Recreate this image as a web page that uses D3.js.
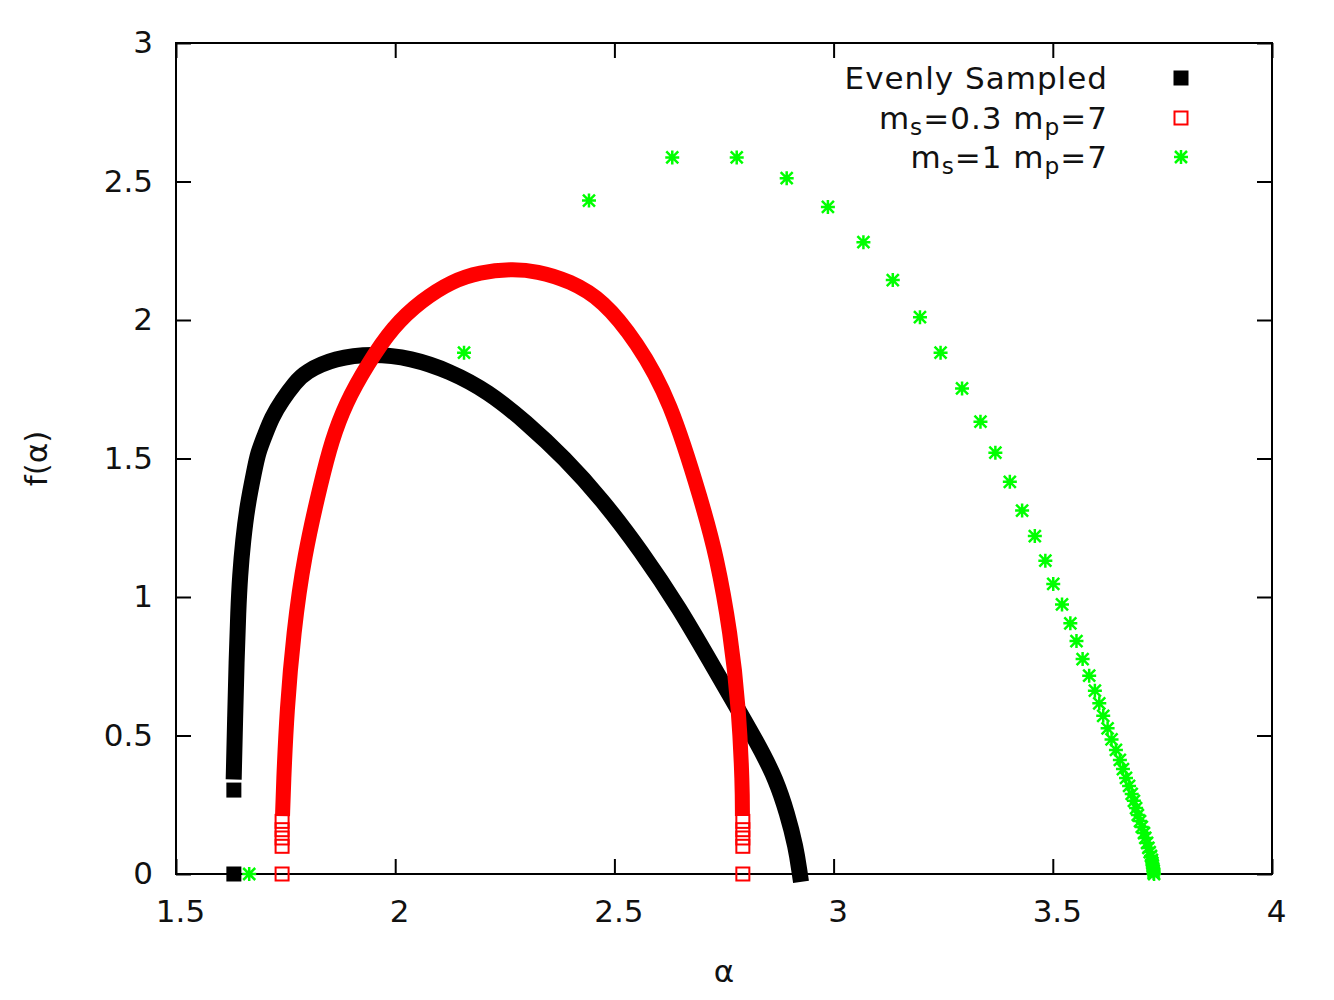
<!DOCTYPE html>
<html>
<head>
<meta charset="utf-8">
<script src="https://cdn.jsdelivr.net/npm/d3@7"></script>
<style>
  body { margin: 0; background: #fff; }
  svg { display: block; }
  text { font-family: 'DejaVu Sans', sans-serif; fill: #111; }
</style>
</head>
<body>
<svg id="chart" width="1334" height="1000"></svg>
<script>
// axis ticks
const xTicks = [1.5, 2, 2.5, 3, 3.5, 4];
const yTicks = [0, 0.5, 1, 1.5, 2, 2.5, 3];

// "Evenly Sampled" curve (dense filled squares)
const evenAlpha = [1.632, 1.635, 1.638, 1.642, 1.646, 1.653, 1.663, 1.679, 1.687, 1.703, 1.718,
  1.742, 1.772, 1.794, 1.862, 1.949, 2.036, 2.124, 2.212, 2.298, 2.386, 2.473, 2.561, 2.647,
  2.735, 2.832, 2.869, 2.894, 2.914, 2.923];
const evenF = [0.370, 0.570, 0.762, 0.951, 1.077, 1.204, 1.332, 1.458, 1.521, 1.585, 1.647,
  1.711, 1.774, 1.812, 1.863, 1.879, 1.863, 1.816, 1.742, 1.632, 1.502, 1.350, 1.166, 0.964,
  0.722, 0.458, 0.339, 0.220, 0.097, 0];
// stray points below the curve
const evenLoneAlpha = [1.632, 1.632];
const evenLoneF = [0, 0.303];

// ms=0.3 mp=7 (dense open squares)
const ms03Alpha = [1.743, 1.745, 1.753, 1.768, 1.792, 1.832, 1.855, 1.887, 1.936, 1.995, 2.061,
  2.130, 2.193, 2.264, 2.323, 2.399, 2.474, 2.551, 2.627, 2.702, 2.733, 2.765, 2.784, 2.792, 2.792];
const ms03F = [0.209, 0.318, 0.596, 0.870, 1.148, 1.422, 1.563, 1.700, 1.838, 1.977, 2.072,
  2.141, 2.173, 2.184, 2.177, 2.141, 2.072, 1.921, 1.715, 1.329, 1.148, 0.870, 0.596, 0.318, 0.209];
const ms03OpenAlpha = [1.742, 1.742, 1.742, 1.742, 1.742, 2.793, 2.793, 2.793, 2.793, 2.793];
const ms03OpenF = [0, 0.10, 0.13, 0.16, 0.19, 0, 0.10, 0.13, 0.16, 0.19];

// ms=1 mp=7 (asterisks)
const ms1Alpha = [1.667, 2.157, 2.442, 2.632, 2.779, 2.893, 2.987, 3.068, 3.135, 3.197, 3.244,
  3.293, 3.335, 3.369, 3.402, 3.430, 3.459, 3.483, 3.501, 3.521, 3.540, 3.554, 3.568, 3.583,
  3.596, 3.606, 3.615, 3.625, 3.634, 3.644, 3.653, 3.660, 3.667, 3.674, 3.680, 3.685, 3.690,
  3.694, 3.699, 3.703, 3.708, 3.711, 3.715, 3.718, 3.721, 3.724, 3.726, 3.727, 3.728, 3.729,
  3.730, 3.730, 3.731];
const ms1F = [0, 1.882, 2.431, 2.587, 2.587, 2.512, 2.408, 2.281, 2.144, 2.010, 1.882,
  1.753, 1.633, 1.521, 1.416, 1.312, 1.220, 1.131, 1.047, 0.973, 0.905, 0.841, 0.776, 0.716,
  0.662, 0.616, 0.571, 0.526, 0.486, 0.448, 0.412, 0.379, 0.347, 0.318, 0.289, 0.264, 0.238,
  0.213, 0.191, 0.170, 0.148, 0.130, 0.112, 0.094, 0.079, 0.065, 0.051, 0.040, 0.029, 0.018,
  0.011, 0.004, 0];

const legendLabels = [
  [['Evenly Sampled', false]],
  [['m', false], ['s', true], ['=0.3 m', false], ['p', true], ['=7', false]],
  [['m', false], ['s', true], ['=1 m', false], ['p', true], ['=7', false]],
];

const margin = { top: 43, right: 62, bottom: 126, left: 176 };
const width = 1334;
const height = 1000;
const fontSize = 31;

const svg = d3.select('#chart');

const xScale = d3.scaleLinear().domain([1.5, 4]).range([margin.left, width - margin.right]);
const yScale = d3.scaleLinear().domain([0, 3]).range([height - margin.bottom, margin.top]);

const zip = (a, b) => a.map((v, i) => [v, b[i]]);

// border
svg.append('rect')
  .attr('x', xScale(1.5))
  .attr('y', yScale(3))
  .attr('width', xScale(4) - xScale(1.5))
  .attr('height', yScale(0) - yScale(3))
  .attr('fill', 'none')
  .attr('stroke', '#000')
  .attr('stroke-width', 2);

const styleAxis = (g) => {
  g.select('.domain').remove();
  g.selectAll('.tick line').attr('stroke', '#000').attr('stroke-width', 2);
  g.selectAll('.tick text')
    .attr('font-family', "'DejaVu Sans', sans-serif")
    .attr('font-size', fontSize)
    .attr('fill', '#111');
};

svg.append('g')
  .attr('transform', `translate(0,${yScale(0)})`)
  .call(d3.axisBottom(xScale).tickValues(xTicks).tickSize(-15).tickSizeOuter(0)
    .tickPadding(26).tickFormat(d3.format('')))
  .call(styleAxis)
  .selectAll('.tick text').attr('dx', 4);

svg.append('g')
  .attr('transform', `translate(0,${yScale(3)})`)
  .call(d3.axisTop(xScale).tickValues(xTicks).tickSize(-15).tickSizeOuter(0).tickFormat(''))
  .call(styleAxis);

svg.append('g')
  .attr('transform', `translate(${xScale(1.5)},0)`)
  .call(d3.axisLeft(yScale).tickValues(yTicks).tickSize(-15).tickSizeOuter(0)
    .tickPadding(23).tickFormat(d3.format('')))
  .call(styleAxis);

svg.append('g')
  .attr('transform', `translate(${xScale(4)},0)`)
  .call(d3.axisRight(yScale).tickValues(yTicks).tickSize(-15).tickSizeOuter(0).tickFormat(''))
  .call(styleAxis);

// axis titles
svg.append('text')
  .attr('transform', `translate(47,${(yScale(0) + yScale(3)) / 2}) rotate(-90)`)
  .attr('text-anchor', 'middle')
  .attr('font-size', fontSize)
  .text('f(α)');

svg.append('text')
  .attr('x', (xScale(1.5) + xScale(4)) / 2)
  .attr('y', 982)
  .attr('text-anchor', 'middle')
  .attr('font-size', fontSize)
  .text('α');

// the curves are thousands of overlapping markers; a thick smoothed stroke stands in for them
const line = d3.line()
  .x(d => xScale(d[0]))
  .y(d => yScale(d[1]))
  .curve(d3.curveBasis);

const asterisk = 'M-7,0H7M0,-7V7M-6,-6L6,6M-6,6L6,-6';

// Evenly Sampled
svg.append('path')
  .datum(zip(evenAlpha, evenF))
  .attr('d', line)
  .attr('fill', 'none')
  .attr('stroke', '#000')
  .attr('stroke-width', 16)
  .attr('stroke-linecap', 'square')
  .attr('stroke-linejoin', 'round');

svg.append('g')
  .selectAll('rect')
  .data(zip(evenLoneAlpha, evenLoneF))
  .enter().append('rect')
  .attr('x', d => xScale(d[0]) - 7.5)
  .attr('y', d => yScale(d[1]) - 7.5)
  .attr('width', 15)
  .attr('height', 15)
  .attr('fill', '#000');

// ms=0.3 mp=7
svg.append('path')
  .datum(zip(ms03Alpha, ms03F))
  .attr('d', line)
  .attr('fill', 'none')
  .attr('stroke', '#ff0000')
  .attr('stroke-width', 15)
  .attr('stroke-linecap', 'butt')
  .attr('stroke-linejoin', 'round');

svg.append('g')
  .selectAll('rect')
  .data(zip(ms03OpenAlpha, ms03OpenF))
  .enter().append('rect')
  .attr('x', d => xScale(d[0]) - 6.5)
  .attr('y', d => yScale(d[1]) - 6.5)
  .attr('width', 13)
  .attr('height', 13)
  .attr('fill', 'none')
  .attr('stroke', '#ff0000')
  .attr('stroke-width', 2);

// ms=1 mp=7
svg.append('g')
  .selectAll('path')
  .data(zip(ms1Alpha, ms1F))
  .enter().append('path')
  .attr('transform', d => `translate(${xScale(d[0])},${yScale(d[1])})`)
  .attr('d', asterisk)
  .attr('fill', 'none')
  .attr('stroke', '#00ff00')
  .attr('stroke-width', 2.5);

// legend
const legendTextX = 1108;
const legendMarkX = 1181;
const legendRowY = [78, 118, 157];

const legend = svg.append('g');
legendLabels.forEach((parts, i) => {
  const t = legend.append('text')
    .attr('x', legendTextX)
    .attr('y', legendRowY[i] + 11)
    .attr('text-anchor', 'end')
    .attr('font-size', fontSize)
    .attr('letter-spacing', 1);
  let down = false;
  parts.forEach(([s, sub]) => {
    const span = t.append('tspan').text(s);
    if (sub) {
      span.attr('font-size', fontSize * 0.75).attr('dy', 6);
      down = true;
    } else if (down) {
      span.attr('dy', -6);
      down = false;
    }
  });
});

legend.append('rect')
  .attr('x', legendMarkX - 7.5).attr('y', legendRowY[0] - 7.5)
  .attr('width', 15).attr('height', 15)
  .attr('fill', '#000');
legend.append('rect')
  .attr('x', legendMarkX - 6.5).attr('y', legendRowY[1] - 6.5)
  .attr('width', 13).attr('height', 13)
  .attr('fill', 'none').attr('stroke', '#ff0000').attr('stroke-width', 2);
legend.append('path')
  .attr('transform', `translate(${legendMarkX},${legendRowY[2]})`)
  .attr('d', asterisk)
  .attr('fill', 'none').attr('stroke', '#00ff00').attr('stroke-width', 2.5);
</script>
</body>
</html>
